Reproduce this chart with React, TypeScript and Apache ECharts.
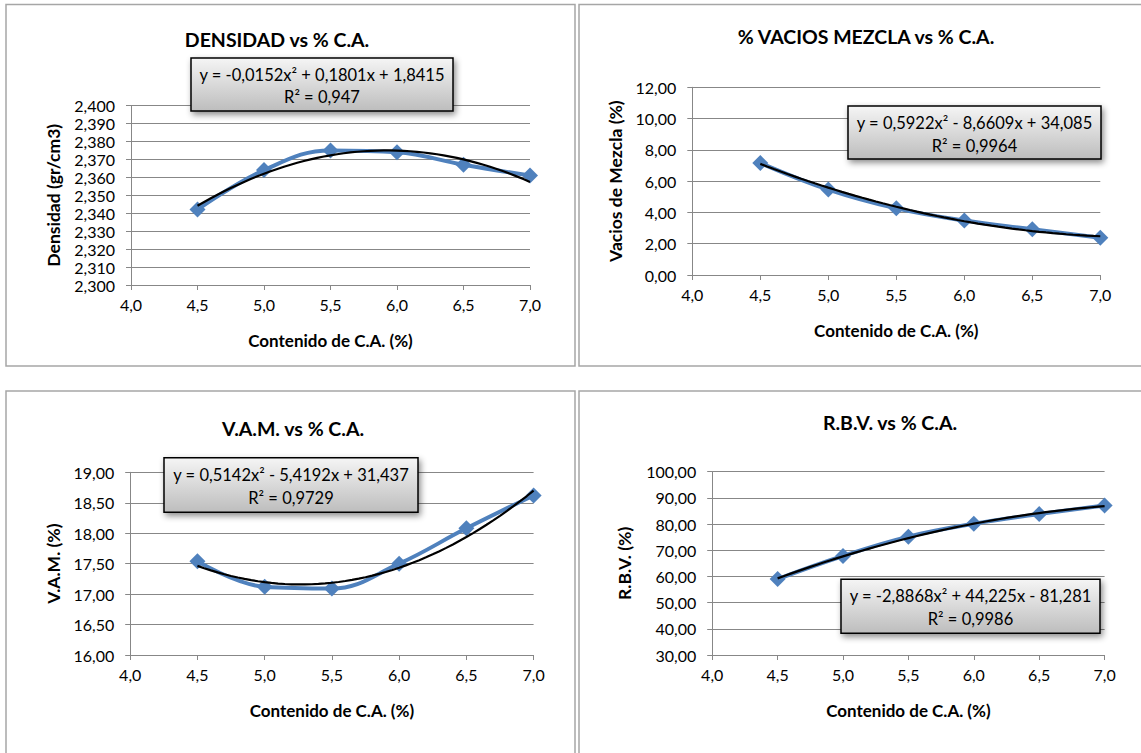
import React, { useEffect, useRef } from "react";
import * as echarts from "echarts";

// ---- Data ----
const caContent = [4.5, 5.0, 5.5, 6.0, 6.5, 7.0];
const xTicks = { min: 4.0, max: 7.0, step: 0.5 };

const densidad = [2.342, 2.364, 2.375, 2.374, 2.367, 2.361];
const vacios = [7.16, 5.46, 4.26, 3.48, 2.93, 2.38];
const vam = [17.54, 17.12, 17.09, 17.5, 18.08, 18.62];
const rbv = [59.0, 67.8, 75.2, 80.1, 83.8, 87.1];

// quadratic trendline coefficients [a, b, c] shown in the chart labels
const densidadFit = [-0.0152, 0.1801, 1.8415];
const vaciosFit = [0.5922, -8.6609, 34.085];
const vamFit = [0.5142, -5.4192, 31.437];
const rbvFit = [-2.8868, 44.225, -81.281];

const titles = ["DENSIDAD vs % C.A.", "% VACIOS MEZCLA vs % C.A.", "V.A.M. vs % C.A.", "R.B.V. vs % C.A."];
const yNames = ["Densidad (gr/cm3)", "Vacios de Mezcla (%)", "V.A.M. (%)", "R.B.V. (%)"];
const xName = "Contenido de C.A. (%)";
const eqTexts = [
  "y = -0,0152x² + 0,1801x + 1,8415",
  "y = 0,5922x² - 8,6609x + 34,085",
  "y = 0,5142x² - 5,4192x + 31,437",
  "y = -2,8868x² + 44,225x - 81,281",
];
const r2Texts = ["R² = 0,947", "R² = 0,9964", "R² = 0,9729", "R² = 0,9986"];
const yRanges = [
  { min: 2.3, max: 2.4, step: 0.01, dec: 3 },
  { min: 0, max: 12, step: 2, dec: 2 },
  { min: 16, max: 19, step: 0.5, dec: 2 },
  { min: 30, max: 100, step: 10, dec: 2 },
];
const seriesValues = [densidad, vacios, vam, rbv];
const fits = [densidadFit, vaciosFit, vamFit, rbvFit];

// ---- Layout ----
const layout = [
  { grid: { left: 131, top: 105.5, width: 399, height: 179.5 }, title: [277, 39], box: [191, 58, 453, 111], eqY: [75, 97], yNameX: 53, xNameY: 340 },
  { grid: { left: 692.3, top: 87.3, width: 408, height: 187.7 }, title: [866, 36], box: [848, 106, 1101, 159], eqY: [123, 145.5], yNameX: 615, xNameY: 330 },
  { grid: { left: 130.2, top: 472.3, width: 403.4, height: 182.7 }, title: [293, 428], box: [164, 457.7, 418, 512.3], eqY: [474.5, 497.5], yNameX: 53, xNameY: 710 },
  { grid: { left: 712.2, top: 471.7, width: 392.4, height: 183.3 }, title: [890, 422], box: [841, 579.3, 1100, 633.3], eqY: [596, 618.5], yNameX: 624, xNameY: 710 },
];

const FONT = "Lato, 'Open Sans', sans-serif";
const GRAY = "#878787";
const BLUE = "#4F81BD";

function trendPoints(coef: number[]) {
  const pts: number[][] = [];
  for (let i = 0; i <= 50; i++) {
    const x = caContent[0] + (i * (caContent[caContent.length - 1] - caContent[0])) / 50;
    pts.push([x, coef[0] * x * x + coef[1] * x + coef[2]]);
  }
  return pts;
}

export default function App() {
  const ref = useRef<HTMLDivElement>(null);
  useEffect(() => {
    if (!ref.current) return;
    const chart = echarts.init(ref.current, null, { renderer: "svg" });

    const grids: any[] = [];
    const xAxes: any[] = [];
    const yAxes: any[] = [];
    const series: any[] = [];
    const graphic: any[] = [];

    // panel frames
    const frames = [
      [6, 4.5, 569, 361.5],
      [579, 4.5, 600, 361.5],
      [6, 391, 569, 400],
      [579, 391, 600, 400],
    ];
    frames.forEach((f) =>
      graphic.push({
        type: "rect",
        silent: true,
        z: 0,
        shape: { x: f[0], y: f[1], width: f[2], height: f[3] },
        style: { fill: "#fff", stroke: "#a6a6a6", lineWidth: 1.5 },
      })
    );

    layout.forEach((L, i) => {
      const g = L.grid;
      const yr = yRanges[i];
      grids.push({ left: g.left, top: g.top, width: g.width, height: g.height, containLabel: false });
      xAxes.push({
        type: "value",
        gridIndex: i,
        min: xTicks.min,
        max: xTicks.max,
        interval: xTicks.step,
        axisLine: { show: true, onZero: false, lineStyle: { color: GRAY, width: 1 } },
        axisTick: { show: true, length: 5, lineStyle: { color: GRAY } },
        splitLine: { show: false },
        axisLabel: {
          margin: 11,
          color: "#000",
          fontFamily: FONT,
          fontSize: 16,
          formatter: (v: number) => v.toFixed(1).replace(".", ","),
        },
      });
      yAxes.push({
        type: "value",
        gridIndex: i,
        min: yr.min,
        max: yr.max,
        interval: yr.step,
        axisLine: { show: true, lineStyle: { color: GRAY, width: 1 } },
        axisTick: { show: true, length: 5, lineStyle: { color: GRAY } },
        splitLine: { show: true, lineStyle: { color: GRAY, width: 1 } },
        axisLabel: {
          margin: 16,
          color: "#000",
          fontFamily: FONT,
          fontSize: 16,
          formatter: (v: number) => v.toFixed(yr.dec).replace(".", ","),
        },
      });
      series.push({
        type: "line",
        xAxisIndex: i,
        yAxisIndex: i,
        smooth: 0.4,
        symbol: "diamond",
        symbolSize: 16,
        itemStyle: { color: BLUE },
        lineStyle: { color: BLUE, width: 4 },
        data: caContent.map((x, j) => [x, seriesValues[i][j]]),
        z: 3,
      });
      series.push({
        type: "line",
        xAxisIndex: i,
        yAxisIndex: i,
        symbol: "none",
        showSymbol: false,
        lineStyle: { color: "#000", width: 2.2 },
        data: trendPoints(fits[i]),
        z: 4,
      });

      // title
      graphic.push({
        type: "text",
        silent: true,
        z: 50,
        x: L.title[0],
        y: L.title[1],
        style: {
          text: titles[i],
          fill: "#000",
          font: `bold 19.5px ${FONT}`,
          textAlign: "center",
          textVerticalAlign: "middle",
        },
      });
      // axis names
      graphic.push({
        type: "text",
        silent: true,
        z: 50,
        x: g.left + g.width / 2,
        y: L.xNameY,
        style: {
          text: xName,
          fill: "#000",
          font: `bold 17px ${FONT}`,
          textAlign: "center",
          textVerticalAlign: "middle",
        },
      });
      graphic.push({
        type: "text",
        silent: true,
        z: 50,
        x: L.yNameX,
        y: g.top + g.height / 2,
        rotation: Math.PI / 2,
        style: {
          text: yNames[i],
          fill: "#000",
          font: `bold 17.5px ${FONT}`,
          textAlign: "center",
          textVerticalAlign: "middle",
        },
      });
      // equation box
      const b = L.box;
      graphic.push({
        type: "rect",
        silent: true,
        z: 60,
        shape: { x: b[0], y: b[1], width: b[2] - b[0], height: b[3] - b[1] },
        style: {
          fill: new echarts.graphic.LinearGradient(0, 0, 0, 1, [
            { offset: 0, color: "#f5f5f5" },
            { offset: 1, color: "#bdbdbd" },
          ]),
          stroke: "#000",
          lineWidth: 1.5,
          shadowBlur: 6,
          shadowOffsetX: 2,
          shadowOffsetY: 3,
          shadowColor: "rgba(0,0,0,0.45)",
        },
      });
      graphic.push({
        type: "text",
        silent: true,
        z: 61,
        x: (b[0] + b[2]) / 2,
        y: L.eqY[0],
        style: { text: eqTexts[i], fill: "#000", font: `16.5px ${FONT}`, textAlign: "center", textVerticalAlign: "middle" },
      });
      graphic.push({
        type: "text",
        silent: true,
        z: 61,
        x: (b[0] + b[2]) / 2,
        y: L.eqY[1],
        style: { text: r2Texts[i], fill: "#000", font: `16.5px ${FONT}`, textAlign: "center", textVerticalAlign: "middle" },
      });
    });

    chart.setOption({
      animation: false,
      backgroundColor: "#fff",
      grid: grids,
      xAxis: xAxes,
      yAxis: yAxes,
      series,
      graphic,
    });
    return () => chart.dispose();
  }, []);

  return <div ref={ref} style={{ position: "fixed", left: 0, top: 0, width: 1141, height: 753 }} />;
}
